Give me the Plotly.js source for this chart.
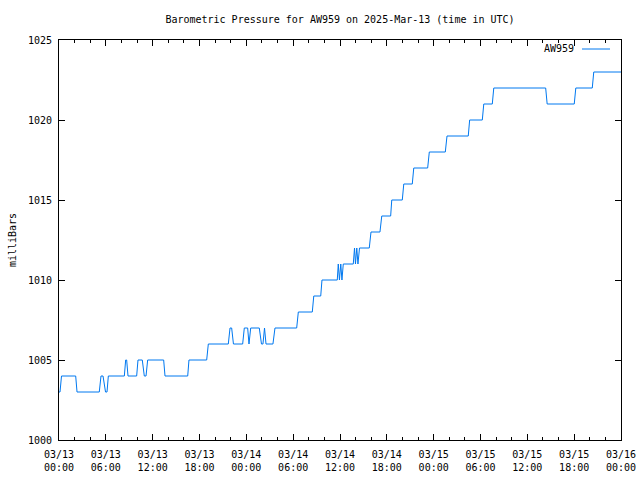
<!DOCTYPE html>
<html>
<head>
<meta charset="utf-8">
<script src="https://cdn.plot.ly/plotly-3.0.1.min.js"></script>
<style>html,body{margin:0;padding:0;background:#fff;}#chart{width:640px;height:480px;}</style>
</head>
<body>
<div id="chart"></div>
<script>
// Hours since 2025-03-13 00:00 UTC
const hoursSinceStart = [
  0, 0.13, 0.32, 2.14, 2.31, 5.16, 5.38, 5.64, 5.96, 6.15, 6.32, 8.37, 8.54, 8.67, 8.84,
  9.95, 10.12, 10.67, 10.93, 11.15, 11.36, 13.41, 13.58, 16.49, 16.65, 18.92, 19.13,
  21.69, 21.91, 22.12, 22.35, 23.53, 23.74, 24.17, 24.34, 24.56, 25.66, 25.94, 26.13,
  26.33, 26.52, 27.41, 27.67, 30.45, 30.66, 32.45, 32.64, 33.53, 33.69, 35.65, 35.78,
  35.93, 36.10, 36.25, 36.42, 37.70, 37.86, 37.98, 38.15, 38.30, 38.50, 39.75, 39.97,
  41.12, 41.35, 42.49, 42.63, 43.98, 44.17, 45.26, 45.45, 47.23, 47.44, 49.49, 49.71,
  52.43, 52.61, 54.23, 54.42, 55.51, 55.70, 62.35, 62.54, 66.01, 66.21, 68.32, 68.51, 72.0
];
const pressure = [
  1003, 1003, 1004, 1004, 1003, 1003, 1004, 1004, 1003, 1003, 1004, 1004, 1005, 1005, 1004,
  1004, 1005, 1005, 1004, 1004, 1005, 1005, 1004, 1004, 1005, 1005, 1006,
  1006, 1007, 1007, 1006, 1006, 1007, 1007, 1006, 1007, 1007, 1006, 1006,
  1007, 1006, 1006, 1007, 1007, 1008, 1008, 1009, 1009, 1010, 1010, 1011,
  1010, 1011, 1010, 1011, 1011, 1012, 1011, 1012, 1011, 1012, 1012, 1013,
  1013, 1014, 1014, 1015, 1015, 1016, 1016, 1017, 1017, 1018, 1018, 1019,
  1019, 1020, 1020, 1021, 1021, 1022, 1022, 1021, 1021, 1022, 1022, 1023, 1023
];
const seriesName = 'AW959';
const titleText = 'Barometric Pressure for AW959 on 2025-Mar-13 (time in UTC)';
const yTitle = 'milliBars';
const startMs = Date.UTC(2025, 2, 13, 0, 0, 0);

function toDateStr(h) {
  const d = new Date(startMs + Math.round(h * 3600000));
  return d.toISOString().replace('T', ' ').slice(0, 19);
}
const times = hoursSinceStart.map(toDateStr);

const font = {family: 'DejaVu Sans Mono, monospace', size: 10, color: '#000'};
const lineColor = '#0078f0';

const trace = {
  x: times, y: pressure, type: 'scatter', mode: 'lines',
  name: seriesName, showlegend: false,
  line: {color: lineColor, width: 1}
};

const layout = {
  width: 640, height: 480,
  margin: {l: 59, r: 19, t: 40, b: 40},
  paper_bgcolor: '#fff', plot_bgcolor: '#fff',
  font: font,
  title: {text: titleText, font: font, x: 0.5, xref: 'paper', xanchor: 'center', y: 1 - 19/480, yanchor: 'middle'},
  xaxis: {
    type: 'date',
    range: [toDateStr(0), toDateStr(72)],
    dtick: 6 * 3600000, tick0: toDateStr(0),
    tickformat: '%m/%d<br>%H:%M',
    ticks: 'inside', ticklen: 6, tickcolor: '#000', tickwidth: 1,
    minor: {dtick: 2 * 3600000, ticks: 'inside', ticklen: 3, tickcolor: '#000', showgrid: false},
    showline: true, linecolor: '#000', linewidth: 1, mirror: 'allticks',
    showgrid: false, zeroline: false, tickfont: font, ticklabelstandoff: 5
  },
  yaxis: {
    range: [1000, 1025], dtick: 5, tick0: 1000,
    ticks: 'inside', ticklen: 6, tickcolor: '#000', tickwidth: 1,
    showline: true, linecolor: '#000', linewidth: 1, mirror: 'allticks',
    showgrid: false, zeroline: false, tickfont: font, ticklabelstandoff: 4,
    title: {text: yTitle, font: font, standoff: 9}
  },
  showlegend: false,
  annotations: [{
    text: seriesName, xref: 'paper', yref: 'paper',
    x: (576 - 59) / 562, y: (440 - 49) / 400, xanchor: 'right', yanchor: 'middle',
    showarrow: false, font: font
  }],
  shapes: [{
    type: 'line', xref: 'paper', yref: 'paper',
    x0: (582 - 59) / 562, x1: (610 - 59) / 562,
    y0: (440 - 49) / 400, y1: (440 - 49) / 400,
    line: {color: lineColor, width: 1}
  }]
};

Plotly.newPlot('chart', [trace], layout, {staticPlot: true, displayModeBar: false});
</script>
</body>
</html>
